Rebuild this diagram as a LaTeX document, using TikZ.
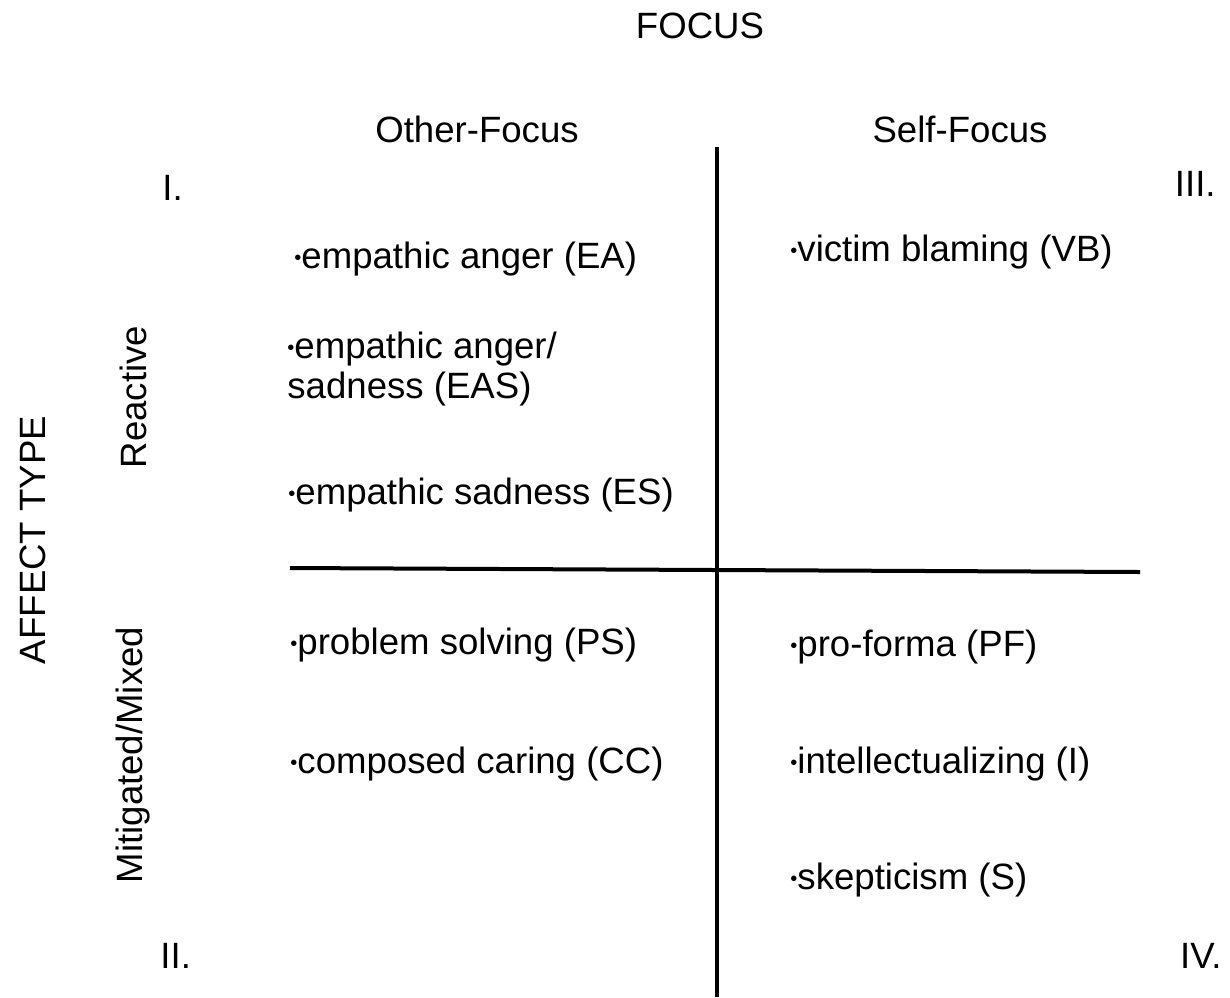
\documentclass[tikz,border=0pt]{standalone}
\usepackage{graphicx}
\usepackage{fontspec}
\setmainfont{Liberation Sans}
\newcommand{\bul}{\raisebox{0.12em}{\scalebox{0.55}{•}}}
\begin{document}
\begin{tikzpicture}[x=0.5pt,y=-0.5pt,
  lbl/.style={inner sep=0pt,font=\fontsize{18.3}{20}\selectfont},
  item/.style={lbl,anchor=west,align=left},
  axisline/.style={line width=2pt,black}]
\useasboundingbox (0,0) rectangle (1230,997);
\node[lbl] (focus) at (700,26) {FOCUS};
\node[lbl] (other) at (477,129) {Other-Focus};
\node[lbl] (self) at (960,129) {Self-Focus};
\node[lbl,anchor=west] (q1) at (162,188) {I.};
\node[lbl,anchor=east] (q3) at (1216,184) {III.};
\node[lbl,anchor=west] (q2) at (160,956) {II.};
\node[lbl,anchor=east] (q4) at (1222,956) {IV.};
\node[lbl,rotate=90] (affect) at (33,540) {AFFECT TYPE};
\node[lbl,rotate=90] (reactive) at (133,397) {Reactive};
\node[lbl,rotate=90] (mitig) at (133,755) {Mitigated/Mixed};
\coordinate (vtop) at (717,147);
\coordinate (vbot) at (717,997);
\coordinate (hl) at (290,568);
\coordinate (hr) at (1140,572);
\draw[axisline] (vtop) -- (vbot);
\draw[axisline] (hl) -- (hr);
\node[item] (ea) at (294,259) {\bul empathic anger (EA)};
\node[item] (eas) at (287,369) {\bul empathic anger/\\sadness (EAS)};
\node[item] (es) at (288,495) {\bul empathic sadness (ES)};
\node[item] (ps) at (290,645) {\bul problem solving (PS)};
\node[item] (cc) at (290,764) {\bul composed caring (CC)};
\node[item] (vb) at (790,252) {\bul victim blaming (VB)};
\node[item] (pf) at (790,647) {\bul pro-forma (PF)};
\node[item] (int) at (790,764) {\bul intellectualizing (I)};
\node[item] (sk) at (790,880) {\bul skepticism (S)};
\end{tikzpicture}
\end{document}
